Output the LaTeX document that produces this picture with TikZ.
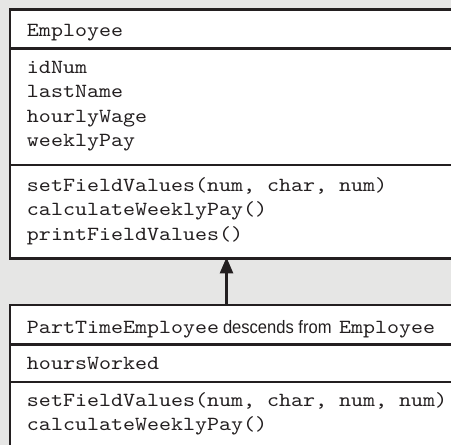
\documentclass[tikz,border=0pt]{standalone}
\usepackage{fontspec}
\setmonofont[FakeStretch=1.1429]{lmmono10-regular.otf}
\newfontfamily\condsans[FakeStretch=0.92]{Liberation Sans}
\usetikzlibrary{arrows.meta}
\definecolor{bg}{HTML}{E6E6E5}
\definecolor{ink}{HTML}{231F20}
\begin{document}
\begin{tikzpicture}[x=1pt,y=-1pt,
  comp/.style={draw=ink,fill=white,line width=2.5pt,rectangle,inner sep=0pt,outer sep=0pt,
    minimum width=460pt,anchor=north west},
  txt/.style={anchor=base west,inner sep=0pt,outer sep=0pt,text=ink,
    font=\fontsize{20}{24}\selectfont\ttfamily},
  sans/.style={anchor=base west,inner sep=0pt,outer sep=0pt,text=ink,
    font=\fontsize{18}{20}\selectfont\condsans},
  inherit/.style={draw=ink,line width=2.4pt,-{Triangle[length=16pt,width=13pt]}}
]
\fill[bg] (0,0) rectangle (451,445);
\useasboundingbox (0,0) rectangle (451,445);
% Employee class
\node[comp,minimum height=39pt] (etitle) at (10,9.5) {};
\node[comp,minimum height=116.5pt] (eattr) at (10,48.5) {};
\node[comp,minimum height=93.5pt] (emeth) at (10,165) {};
% PartTimeEmployee class
\node[comp,minimum height=39.5pt] (ptitle) at (10,305) {};
\node[comp,minimum height=37.5pt] (pattr) at (10,344.5) {};
\node[comp,minimum height=90pt] (pmeth) at (10,382) {};
% texts
\node[txt] (t1) at (27,36.5) {Employee};
\node[txt] (a1) at (27,73) {idNum};
\node[txt] (a2) at (27,97.5) {lastName};
\node[txt] (a3) at (27,122) {hourlyWage};
\node[txt] (a4) at (27,146.5) {weeklyPay};
\node[txt] (m1) at (27,191) {setFieldValues(num, char, num)};
\node[txt] (m2) at (27,215.5) {calculateWeeklyPay()};
\node[txt] (m3) at (27,240) {printFieldValues()};
\node[txt] (t2a) at (27,333) {PartTimeEmployee};
\node[sans] (t2b) at (223,333) {descends from};
\node[txt] (t2c) at (339,333) {Employee};
\node[txt] (b1) at (27,369) {hoursWorked};
\node[txt] (c1) at (27,406) {setFieldValues(num, char, num, num)};
\node[txt] (c2) at (27,430.5) {calculateWeeklyPay()};
% inheritance arrow
\draw[inherit] ([xshift=216.5pt]ptitle.north west) -- ([xshift=216.5pt,yshift=1.2pt]emeth.south west);
\end{tikzpicture}
\end{document}
